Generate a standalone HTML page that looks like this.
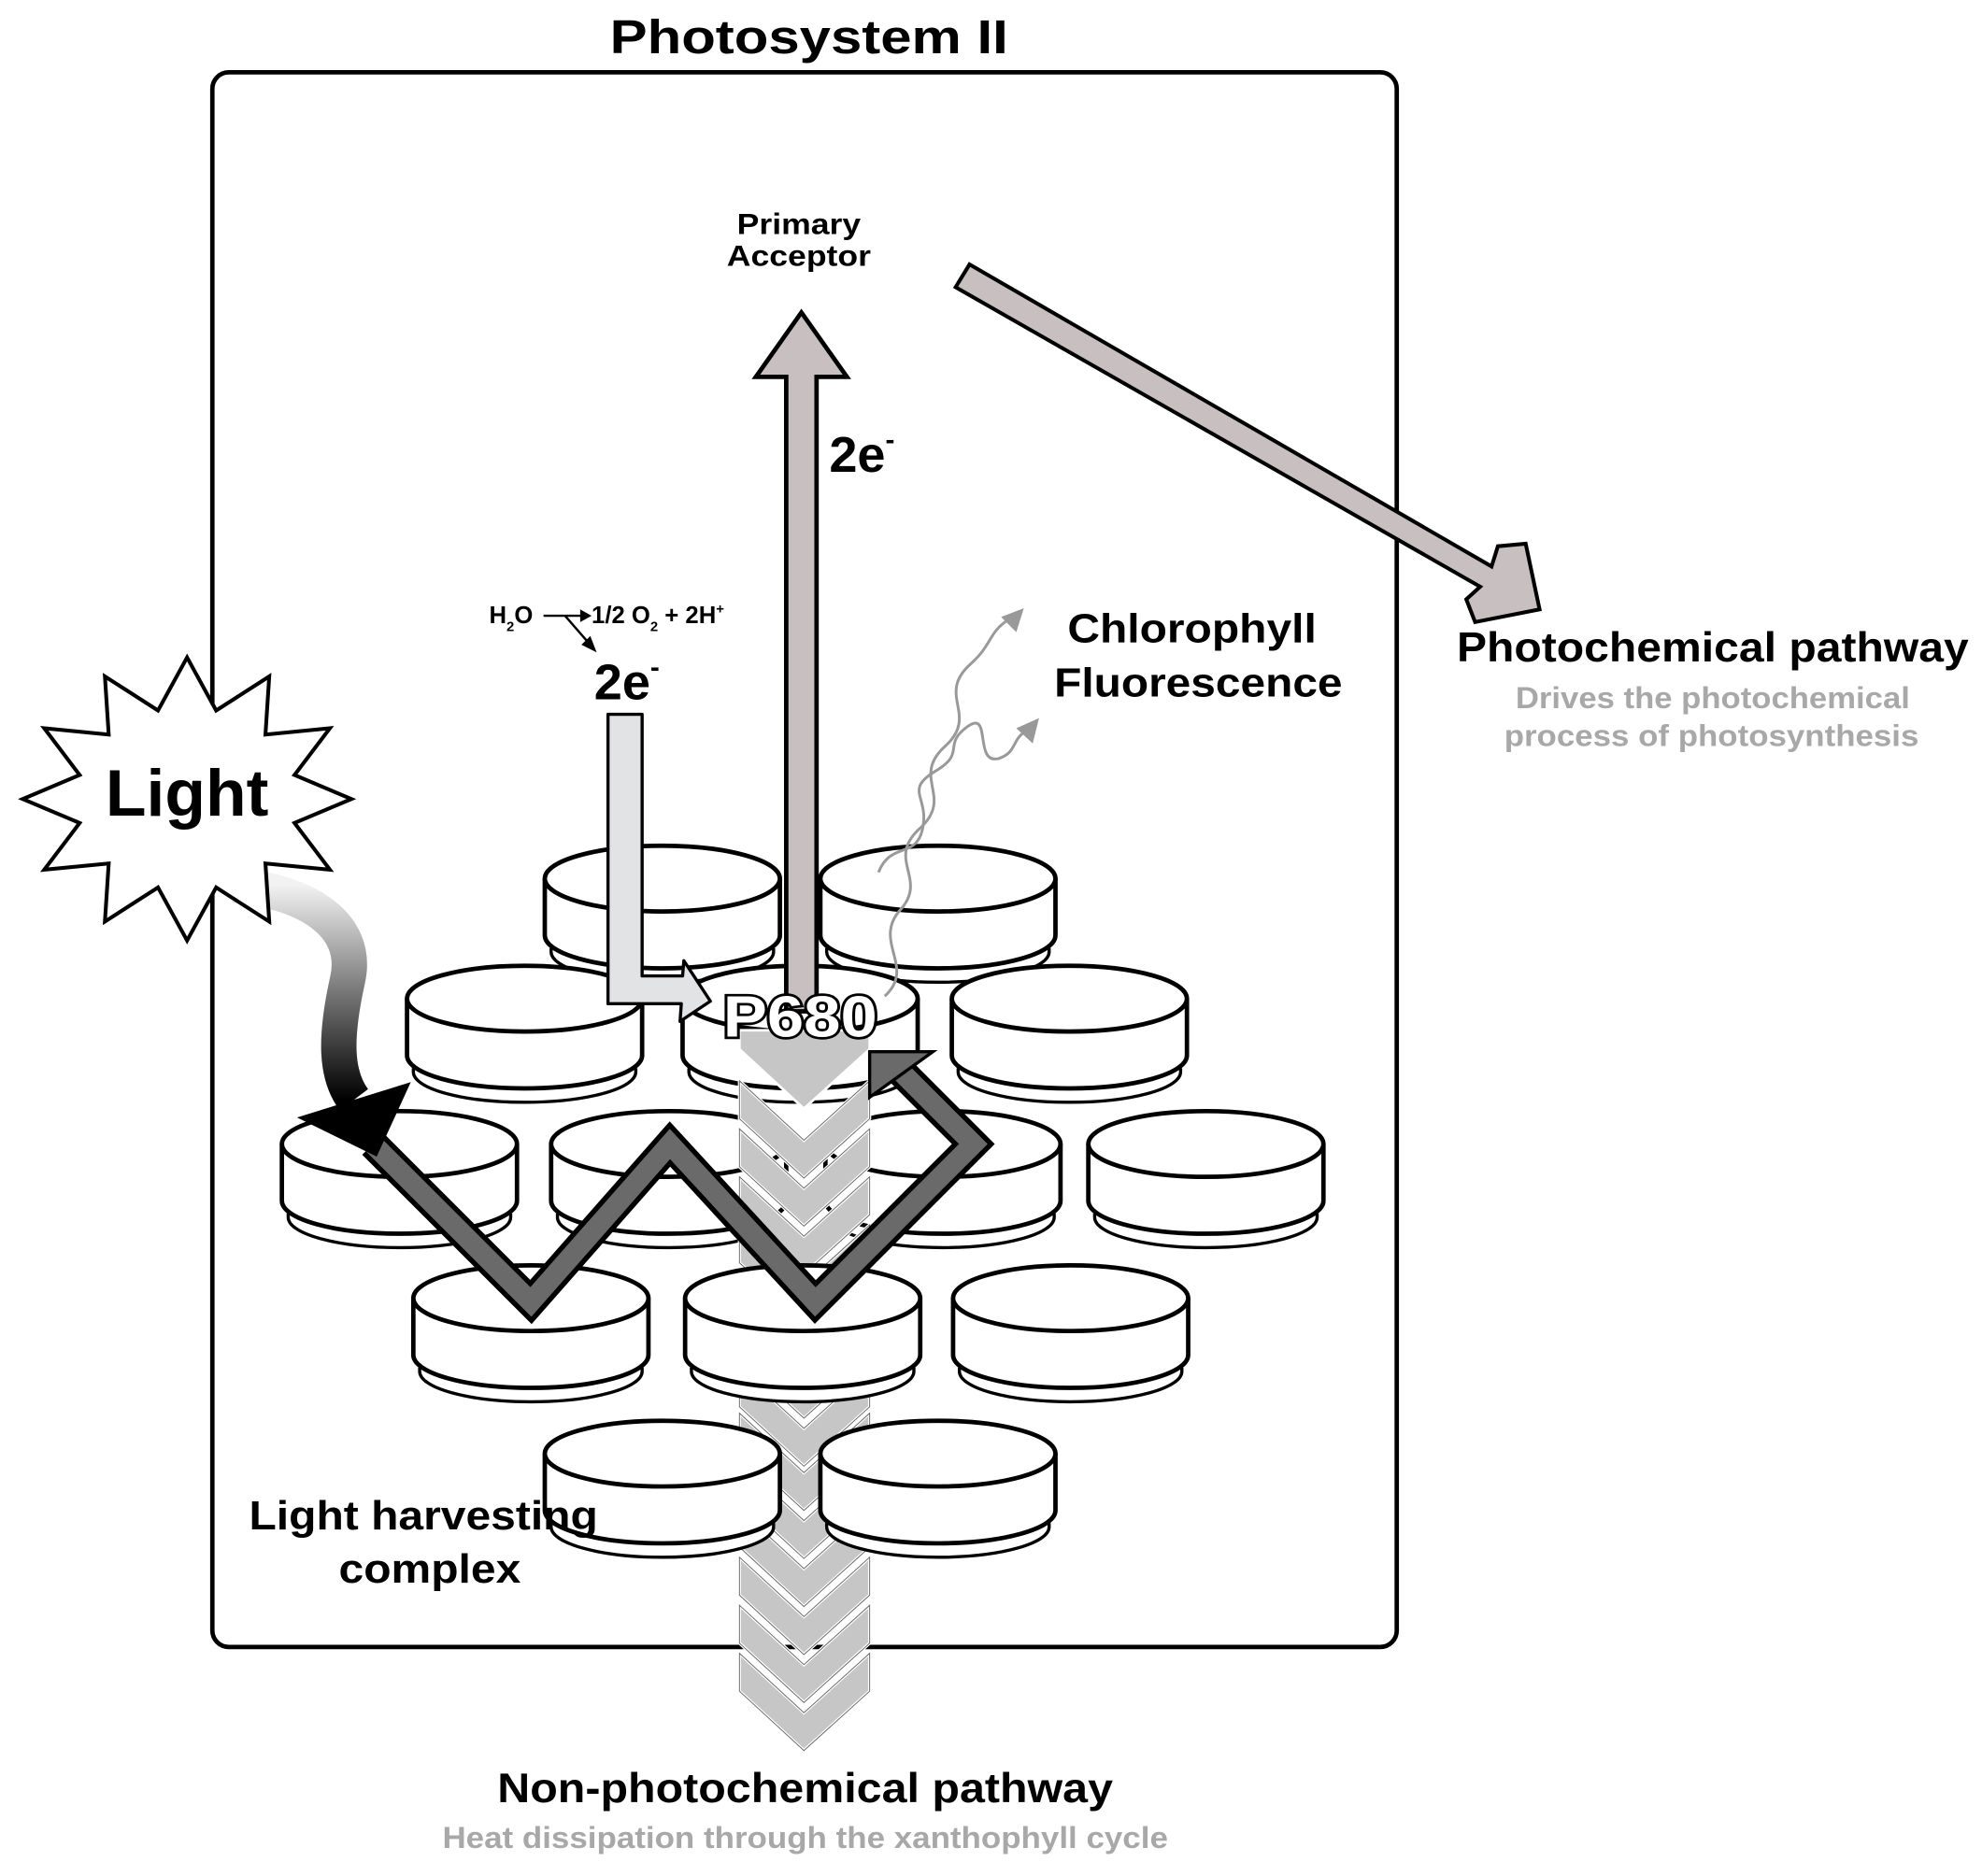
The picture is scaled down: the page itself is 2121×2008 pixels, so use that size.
<!DOCTYPE html>
<html><head><meta charset="utf-8"><style>
html,body{margin:0;padding:0;background:#fff;width:2121px;height:2008px;overflow:hidden}
svg{display:block}
text{font-family:"Liberation Sans",Arial,sans-serif;font-weight:bold}
</style></head><body>
<svg width="2121" height="2008" viewBox="0 0 1568 1484" xmlns="http://www.w3.org/2000/svg">
<defs>
<linearGradient id="lg" x1="0" y1="0" x2="0" y2="1">
<stop offset="0" stop-color="#f2f2f2"/><stop offset="0.5" stop-color="#777"/><stop offset="1" stop-color="#000"/>
</linearGradient>
<g id="disk">
<path d="M-88,55 L-88,58 A88,24 0 0 0 88,58 L88,55" fill="#fff" stroke="#000" stroke-width="2.5"/>
<path d="M-93,0 L-93,45 A93,26 0 0 0 93,45 L93,0" fill="#fff" stroke="#000" stroke-width="3.5"/>
<ellipse cx="0" cy="0" rx="93" ry="26" fill="#fff" stroke="#000" stroke-width="3.5"/>
</g>
<g id="chev"><polygon points="585,0 636,47 688,0 688,30 636,77 585,30" fill="#c6c6c6" stroke="#fff" stroke-width="2.5"/>
<polygon points="585,0 636,47 688,0 688,30 636,77 585,30" fill="none" stroke="#666" stroke-width="0.7"/></g>
</defs>

<text x="640" y="42" font-size="38" text-anchor="middle" textLength="315" lengthAdjust="spacingAndGlyphs">Photosystem II</text>
<rect x="168" y="57" width="937" height="1246" rx="13" fill="none" stroke="#000" stroke-width="3.5"/>

<!-- disks rows 1-3 -->
<use href="#disk" x="524" y="695"/><use href="#disk" x="742" y="695"/>
<use href="#disk" x="415" y="790"/><use href="#disk" x="633" y="790"/><use href="#disk" x="846" y="790"/>
<use href="#disk" x="316" y="905"/><use href="#disk" x="529" y="905"/><use href="#disk" x="746" y="905"/><use href="#disk" x="954" y="905"/>

<!-- chevrons -->
<g>
<polygon points="585,815 688,815 688,830 636,877 585,830" fill="#c6c6c6" stroke="#fff" stroke-width="2"/>
<use href="#chev" y="855"/><use href="#chev" y="893"/><use href="#chev" y="931"/><use href="#chev" y="969"/><use href="#chev" y="1007"/><use href="#chev" y="1045"/>
<use href="#chev" y="1083"/><use href="#chev" y="1118"/><use href="#chev" y="1156"/><use href="#chev" y="1194"/><use href="#chev" y="1232"/><use href="#chev" y="1270"/><use href="#chev" y="1308"/>
</g>

<use href="#disk" x="420" y="1027"/><use href="#disk" x="635" y="1027"/><use href="#disk" x="847" y="1027"/>
<use href="#disk" x="524" y="1150"/><use href="#disk" x="742" y="1150"/>

<!-- zigzag -->
<polyline points="295,905 420,1030 530,905 645,1030 770,905 712,847" fill="none" stroke="#000" stroke-width="24" stroke-linejoin="miter" stroke-miterlimit="10"/>
<polyline points="295,905 420,1030 530,905 645,1030 770,905 712,847" fill="none" stroke="#6a6a6a" stroke-width="16" stroke-linejoin="miter" stroke-miterlimit="10"/>
<polygon points="688,868 688,832 738,832" fill="#6a6a6a" stroke="#000" stroke-width="2.5"/>

<!-- light wavy arrow -->
<path d="M185,700 C240,705 285,730 275,775 C265,820 265,850 280,870" fill="none" stroke="url(#lg)" stroke-width="28"/>
<polygon points="235,884 325,856 298,915" fill="#000"/>

<!-- starburst -->
<polygon points="278,632 233,651 261,688 210,683 213,729 171,702 148,744 125,702 83,729 86,683 35,688 63,651 18,632 63,613 35,576 86,581 83,535 125,562 148,520 171,562 213,535 210,581 261,576 233,613" fill="#fff" stroke="#000" stroke-width="3"/>
<text x="148" y="645" font-size="52" text-anchor="middle" textLength="129" lengthAdjust="spacingAndGlyphs">Light</text>

<!-- L arrow into P680 -->
<polygon points="481,565 508,565 508,772 540,772 541,760 562,792 538,808 539,794 481,794" fill="#e2e3e5" stroke="#000" stroke-width="2.5" stroke-linejoin="round"/>

<!-- vertical arrow -->
<polygon points="622,800 622,298 598,298 634,247 670,298 646,298 646,800" fill="#c8c0c0" stroke="#000" stroke-width="3.5"/>

<!-- diagonal arrow -->
<polygon points="756,227 767,209 1180,448 1185,432 1207,430 1218,482 1167,492 1160,474 1171,464" fill="#c8c0c0" stroke="#000" stroke-width="3"/>

<!-- fluorescence wavy lines -->
<path d="M700,788 C725,765 690,745 712,720 C735,695 700,680 728,655 C755,630 720,615 748,590 C775,565 740,550 768,525 C785,510 782,500 798,490" fill="none" stroke="#999" stroke-width="2.2"/>
<polygon points="810,481 792,488 804,500" fill="#999"/>
<path d="M695,690 C705,665 725,680 730,655 C735,630 715,625 740,610 C765,595 745,590 765,575 C785,560 770,605 790,600 C805,595 800,585 812,578" fill="none" stroke="#999" stroke-width="2.2"/>
<polygon points="822,568 804,576 817,588" fill="#999"/>

<!-- P680 -->
<text x="633" y="820" font-size="46" text-anchor="middle" fill="#fff" stroke="#000" stroke-width="4" paint-order="stroke" textLength="122" lengthAdjust="spacingAndGlyphs">P680</text>

<!-- labels -->
<text x="632" y="185" font-size="23" text-anchor="middle" textLength="98" lengthAdjust="spacingAndGlyphs">Primary</text>
<text x="632" y="210" font-size="23" text-anchor="middle" textLength="114" lengthAdjust="spacingAndGlyphs">Acceptor</text>
<text x="656" y="373" font-size="40">2e<tspan font-size="22" dy="-18">-</tspan></text>
<text x="387" y="493" font-size="19">H<tspan font-size="11" dy="6">2</tspan><tspan dy="-6">O</tspan></text>
<line x1="430" y1="487" x2="462" y2="487" stroke="#000" stroke-width="1.8"/>
<polygon points="468,487 459,482 459,492" fill="#000"/>
<line x1="447" y1="487" x2="467" y2="510" stroke="#000" stroke-width="1.8"/>
<polygon points="472,516 460,510 467,503" fill="#000"/>
<text x="468" y="493" font-size="19">1/2 O<tspan font-size="11" dy="6">2</tspan><tspan dy="-6"> + 2H</tspan><tspan font-size="11" dy="-8">+</tspan></text>
<text x="470" y="553" font-size="40">2e<tspan font-size="22" dy="-18">-</tspan></text>
<text x="943" y="508" font-size="32" text-anchor="middle" textLength="197" lengthAdjust="spacingAndGlyphs">Chlorophyll</text>
<text x="948" y="551" font-size="32" text-anchor="middle" textLength="228" lengthAdjust="spacingAndGlyphs">Fluorescence</text>
<text x="1355" y="523" font-size="33" text-anchor="middle" textLength="405" lengthAdjust="spacingAndGlyphs">Photochemical pathway</text>
<text x="1355" y="560" font-size="24" text-anchor="middle" fill="#a8a8a8" textLength="312" lengthAdjust="spacingAndGlyphs">Drives the photochemical</text>
<text x="1354" y="590" font-size="24" text-anchor="middle" fill="#a8a8a8" textLength="328" lengthAdjust="spacingAndGlyphs">process of photosynthesis</text>
<text x="335" y="1210" font-size="32" text-anchor="middle" textLength="276" lengthAdjust="spacingAndGlyphs">Light harvesting</text>
<text x="340" y="1252" font-size="32" text-anchor="middle" textLength="144" lengthAdjust="spacingAndGlyphs">complex</text>
<text x="637" y="1426" font-size="33" text-anchor="middle" textLength="487" lengthAdjust="spacingAndGlyphs">Non-photochemical pathway</text>
<text x="637" y="1462" font-size="24" text-anchor="middle" fill="#a8a8a8" textLength="574" lengthAdjust="spacingAndGlyphs">Heat dissipation through the xanthophyll cycle</text>
</svg>
</body></html>
